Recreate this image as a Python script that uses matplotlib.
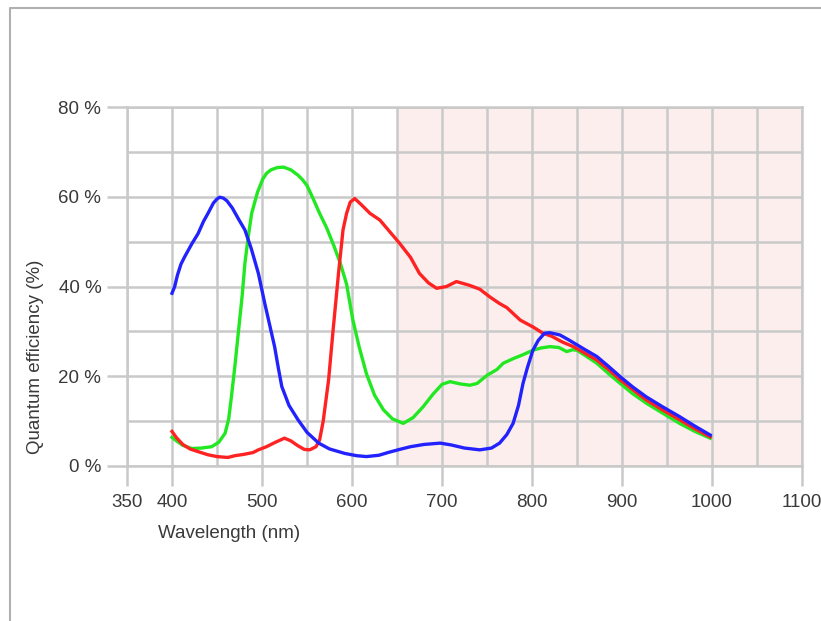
import matplotlib
matplotlib.use("Agg")
import matplotlib.pyplot as plt
from matplotlib.lines import Line2D

# ---- data ----
blue_wl = [400, 403, 406, 410, 414, 422, 429, 435, 440, 446, 450, 453, 457, 461, 467, 474, 481, 488, 496, 503, 509, 514, 518, 522,
           530, 540, 550, 563, 575, 592, 605, 616, 630, 640, 653, 665, 680, 698, 710, 725, 742, 755, 764, 772,
           779, 785, 790, 795, 801, 807, 814, 820, 831, 840, 850, 860, 872, 885, 898, 912, 927, 945, 964, 980, 998]
blue_qe = [38.5, 40, 42.5, 45, 46.6, 49.5, 51.8, 54.5, 56.3, 58.6, 59.5, 59.9, 59.7, 59.1, 57.5, 55, 52.6, 48.5, 42.9, 36.3, 31, 26.6, 22, 17.7,
           13.5, 10.3, 7.5, 5.1, 3.8, 2.8, 2.3, 2.1, 2.4, 3.0, 3.7, 4.3, 4.8, 5.1, 4.7, 4.0, 3.6, 4.0, 5.1, 7.0,
           9.5, 13.5, 18.4, 22, 25.8, 28, 29.6, 29.7, 29.2, 28.2, 27, 25.8, 24.4, 22.2, 19.9, 17.6, 15.4, 13.2, 11, 9, 6.9]

green_wl = [400, 405, 412, 422, 433, 444, 452, 459, 463, 466, 470, 474, 478, 481, 485, 488.5, 495, 501, 505, 510, 517,
            524, 532, 540, 545, 550, 557, 564, 572, 580, 587, 594, 601, 608, 616, 625, 635, 645, 657, 668, 679,
            690, 700, 709, 720, 731, 739, 750, 761, 768, 780, 790, 801, 810, 820, 830, 838.5, 845, 850, 860, 872,
            885, 898, 912, 927, 945, 964, 980, 998]
green_qe = [6.4, 5.6, 4.6, 3.9, 4.0, 4.3, 5.3, 7.3, 10.5, 15.4, 22.5, 30.3, 38, 45.2, 51.5, 56.3, 61, 64.0, 65.2, 66.0, 66.5,
            66.6, 66, 64.8, 63.8, 62.5, 59.5, 56.3, 53, 49, 45.2, 40.5, 32.5, 26.5, 20.6, 15.8, 12.5, 10.5, 9.5, 10.8, 13.2,
            16.0, 18.2, 18.8, 18.3, 18.0, 18.4, 20.2, 21.5, 22.9, 24.0, 24.8, 25.8, 26.3, 26.6, 26.4, 25.5, 25.9, 25.8, 24.5, 22.9,
            20.6, 18.4, 16.1, 14, 11.8, 9.5, 7.8, 6.2]

red_wl = [400, 405, 412, 420, 429, 440, 450, 462, 470, 480, 490, 496, 505, 515, 525, 532, 540, 547, 553, 560,
          564, 568, 574, 579, 585, 590, 594, 598, 603, 610, 620, 631, 642, 653, 665, 675, 685, 694, 705, 716,
          730, 742, 753, 764, 772, 787, 801, 812, 822, 834, 846, 860, 872, 885, 898, 912, 927, 945, 964, 980, 998]
red_qe = [7.7, 6.3, 4.8, 3.8, 3.2, 2.5, 2.1, 1.9, 2.3, 2.6, 3.0, 3.6, 4.3, 5.3, 6.2, 5.6, 4.5, 3.7, 3.6, 4.3,
          5.8, 10, 19.2, 30.3, 42.9, 52.6, 56.3, 58.8, 59.6, 58.3, 56.3, 54.8, 52.2, 49.6, 46.5, 42.9, 40.8, 39.6, 40.0, 41.1,
          40.3, 39.4, 37.7, 36.2, 35.3, 32.5, 31.0, 29.6, 28.9, 27.6, 26.6, 25, 23.6, 21.5, 19.2, 17, 14.7, 12.5, 10.3, 8.4, 6.5]

x_major = [350, 400, 500, 600, 700, 800, 900, 1000, 1100]
x_minor = [450, 550, 650, 750, 850, 950, 1050]
y_major = [0, 20, 40, 60, 80]
y_minor = [10, 30, 50, 70]
y_labels = ["0 %", "20 %", "40 %", "60 %", "80 %"]
ir_start, ir_end = 650, 1100

W, H = 821, 621
plt.rcParams['font.family'] = ['Liberation Sans', 'DejaVu Sans']
plt.rcParams['lines.solid_joinstyle'] = 'round'
fig = plt.figure(figsize=(W / 100, H / 100), dpi=100)
ax = fig.add_axes([127 / W, 1 - 466 / H, (802 - 127) / W, (466 - 107) / H])

gridc = '#c9c9c9'
textc = '#3a3a3a'

ax.axvspan(ir_start, ir_end, color='#fdeeee', zorder=0, lw=0)
ax.set_xlim(350, 1100)
ax.set_ylim(0, 80)
ax.set_xticks(x_major)
ax.set_xticks(x_minor, minor=True)
ax.set_yticks(y_major)
ax.set_yticks(y_minor, minor=True)
ax.set_yticklabels(y_labels)
ax.grid(True, which='both', color=gridc, lw=1.8, zorder=1)
ax.set_axisbelow(True)
for s in ax.spines.values():
    s.set_color(gridc)
    s.set_linewidth(1.8)
ax.tick_params(which='major', length=14.5, width=1.8, color=gridc, labelsize=13.5, labelcolor=textc, pad=4)
ax.tick_params(axis='x', which='major', pad=6)
ax.tick_params(which='minor', length=0)

ax.plot(green_wl, green_qe, color='#22e822', lw=2.4, zorder=3)
ax.plot(red_wl, red_qe, color='#ff2222', lw=2.4, zorder=4)
ax.plot(blue_wl, blue_qe, color='#2222ff', lw=2.4, zorder=5)

fig.text(229 / W, 1 - 533 / H, "Wavelength (nm)", ha='center', va='center', fontsize=13.5, color=textc)
fig.text(35 / W, 1 - 357 / H, "Quantum efficiency (%)", ha='center', va='center', rotation=90,
         fontsize=13.5, color=textc)

# outer frame (left and top edges)
fig.add_artist(Line2D([10 / W, 10 / W, 1.0], [0.0, 1 - 8 / H, 1 - 8 / H], transform=fig.transFigure,
                      color='#b0b0b0', lw=1.5))

fig.savefig("out.png", dpi=100)
